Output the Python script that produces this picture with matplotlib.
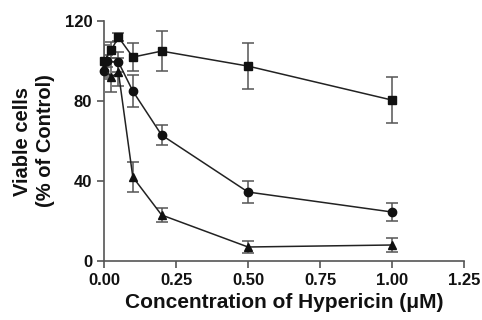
import numpy as np
import matplotlib.pyplot as plt

plt.rcParams['font.family'] = ['Liberation Sans', 'DejaVu Sans']
plt.rcParams['font.weight'] = 'bold'

# squares
x_sq = [0, 0.025, 0.05, 0.1, 0.2, 0.5, 1.0]
y_sq = [100, 105.5, 112, 102, 105, 97.5, 80.5]
e_sq = [8, 4, 2, 7, 10, 11.5, 11.5]
# circles
x_ci = [0, 0.01, 0.05, 0.1, 0.2, 0.5, 1.0]
y_ci = [95, 100, 99.5, 85, 63, 34.5, 24.5]
e_ci = [4, 3, 5, 8, 5, 5.5, 4.7]
# triangles
x_tr = [0, 0.025, 0.05, 0.1, 0.2, 0.5, 1.0]
y_tr = [97, 92, 94.5, 42, 23, 7, 8]
e_tr = [4, 7.5, 7, 7.5, 3.3, 3, 3.5]

xticks = [0.00, 0.25, 0.50, 0.75, 1.00, 1.25]
yticks = [0, 40, 80, 120]

fig = plt.figure(figsize=(4.82, 3.2), dpi=100)
ax = fig.add_axes([0.2158, 0.1844, 0.7469, 0.7496])

for x, y, e, m, ms in [(x_sq, y_sq, e_sq, 's', 5.5), (x_ci, y_ci, e_ci, 'o', 6), (x_tr, y_tr, e_tr, '^', 6)]:
    ax.errorbar(x, y, yerr=e, fmt='none', ecolor='#555555', elinewidth=1.1, capsize=4, capthick=1.1, zorder=2)
    ax.plot(x, y, color='#222222', lw=1.1, marker=m, ms=ms, mfc='#111111', mec='#111111', zorder=3, clip_on=False)

ax.set_xlim(0, 1.25)
ax.set_ylim(0, 120)
ax.set_xticks(xticks)
ax.set_xticklabels(['%.2f' % t for t in xticks])
ax.set_yticks(yticks)
for s in ['top', 'right']:
    ax.spines[s].set_visible(False)
for s in ['left', 'bottom']:
    ax.spines[s].set_color('#555555')
    ax.spines[s].set_linewidth(1.2)
ax.tick_params(direction='out', length=5, width=1.2, color='#555555', labelsize=12, labelcolor='#111111')
ax.set_xlabel('Concentration of Hypericin (μM)', fontsize=15, fontweight='bold', color='#111111', labelpad=4)
ax.set_ylabel('Viable cells\n(% of Control)', fontsize=14.5, fontweight='bold', color='#111111', labelpad=7, linespacing=1.25)

fig.savefig('out.png', dpi=100)
